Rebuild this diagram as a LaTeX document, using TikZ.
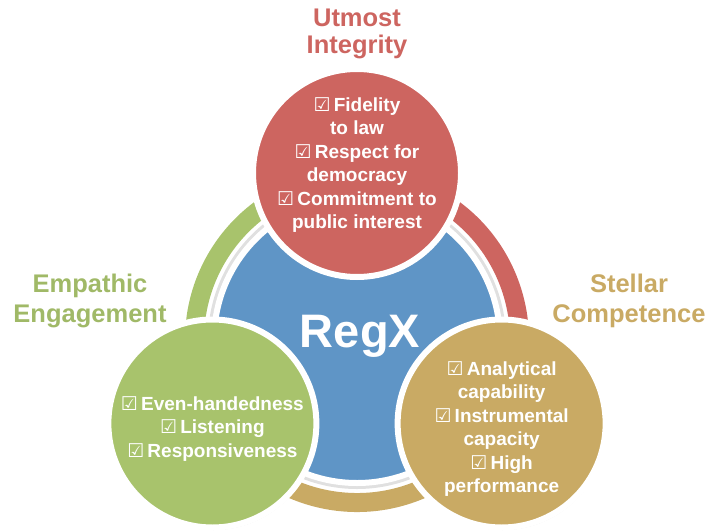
\documentclass[tikz,border=0pt]{standalone}
\usepackage{fontspec}
\setmainfont{Liberation Sans}
\newfontfamily\boxfont{DejaVu Sans}
\usetikzlibrary{shadows}

\definecolor{regred}{RGB}{205,101,96}
\definecolor{reggreen}{RGB}{168,195,108}
\definecolor{regblue}{RGB}{95,149,198}
\definecolor{reggold}{RGB}{201,170,100}
\newcommand{\chkbox}{{\boxfont\fontsize{19}{23.5}\selectfont\char"2611}\,}

\begin{document}
\begin{tikzpicture}[x=1pt,y=1pt]
        \tikzstyle{petal}=[circle, draw=white, line width=6pt, minimum size=208pt, inner sep=0pt, drop shadow={opacity=0.25, shadow xshift=1pt, shadow yshift=-2.5pt}]
        \tikzstyle{ringarc}=[line width=19pt]
        \tikzstyle{items}=[text=white, font=\bfseries\fontsize{19}{23.5}\selectfont, align=center]
        \tikzstyle{heading}=[font=\bfseries\fontsize{25.5}{28}\selectfont, align=center]
        \useasboundingbox (0,0) rectangle (708,531);
        \coordinate (hub) at (357,191);
        % outer ring, one third for each value
        \draw[ringarc, reggreen] (hub) ++(90:162.5) arc[start angle=90, end angle=210, radius=162.5];
        \draw[ringarc, regred] (hub) ++(-30:162.5) arc[start angle=-30, end angle=90, radius=162.5];
        \draw[ringarc, reggold] (hub) ++(210:162.5) arc[start angle=210, end angle=330, radius=162.5];
        \fill[black!12] (hub) circle (149);
        \node[circle, fill=regblue, draw=white, line width=6pt, minimum size=286pt, inner sep=0pt] (core) at (hub) {};
        \node[text=white, font=\bfseries\fontsize{47}{50}\selectfont, anchor=base] (regx) at (360,184) {RegX};
        % the three values
        \node[petal, fill=regred] (integrity) at ([yshift=167]hub) {};
        \node[petal, fill=reggreen] (empathy) at ([shift={(210:167)}]hub) {};
        \node[petal, fill=reggold] (competence) at ([shift={(330:167)}]hub) {};
        \node[items] (integrity-items) at ([yshift=8]integrity) {\chkbox Fidelity\\to law\\\chkbox Respect for\\democracy\\\chkbox Commitment to\\public interest};
        \node[items] (empathy-items) at ([yshift=-5.5]empathy) {\chkbox Even-handedness\\\chkbox Listening\\\chkbox Responsiveness};
        \node[items] (competence-items) at ([yshift=-5.5]competence) {\chkbox Analytical\\capability\\\chkbox Instrumental\\capacity\\\chkbox High\\performance};
        \node[heading, text=regred, font=\bfseries\fontsize{25.5}{27}\selectfont] (integrity-title) at (357,497) {Utmost\\Integrity};
        \node[heading, text=reggreen!95!black, font=\bfseries\fontsize{25.5}{30}\selectfont] (empathy-title) at (90,230.5) {Empathic\\Engagement};
        \node[heading, text=reggold, font=\bfseries\fontsize{25.5}{30}\selectfont] (competence-title) at (629,230.5) {Stellar\\Competence};
\end{tikzpicture}
\end{document}
